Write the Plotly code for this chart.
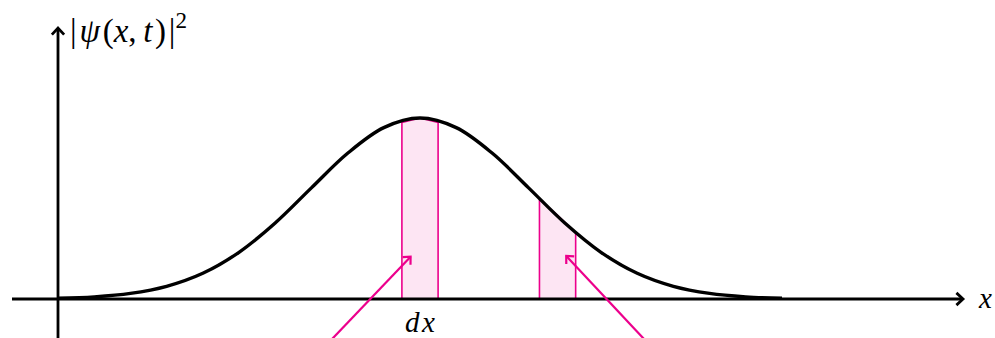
import numpy as np
import plotly.graph_objects as go

# probability density |psi(x,t)|^2 (x in units, peak = 1)
x_vals = [0, 0.5, 1, 1.5, 2, 2.5, 3, 3.5, 4, 4.5, 5, 5.5, 6, 6.5, 7, 7.5, 8, 8.5, 9, 9.5, 10]
density = [0.004, 0.012, 0.031, 0.07, 0.142, 0.258, 0.42, 0.614, 0.805, 0.947, 1.0,
           0.947, 0.805, 0.614, 0.42, 0.258, 0.142, 0.07, 0.031, 0.012, 0.004]

# the two dx strips: left edge, width, heights of the curve at left / middle / right
strip_left = [4.75, 6.65]
strip_width = [0.5, 0.5]
strip_tops = [[0.975, 1.0, 0.975], [0.551, 0.462, 0.365]]

# pointer arrows: (start x, start y) -> (tip x, tip y)
arrow_start = [(3.80, -0.215), (8.08, -0.215)]
arrow_tip = [(4.87, 0.234), (7.02, 0.238)]

PINK = "#ec008c"
X_PX = 72.4   # pixels per x unit
Y_PX = 181.0  # pixels per y unit
W, H = 995, 338
OX, OY = 58, 299  # origin in pixels

fig = go.Figure()


def chevron(tip, frm, color, width, arm=9):
    # open arrow head like tikz "->"
    dx = (tip[0] - frm[0]) * X_PX
    dy = (tip[1] - frm[1]) * Y_PX
    n = np.hypot(dx, dy)
    ux, uy = dx / n, dy / n
    pts = []
    for ang in (0.75, -0.75):
        c, s = np.cos(ang), np.sin(ang)
        bx = -(ux * c - uy * s) * arm
        by = -(ux * s + uy * c) * arm
        pts.append((tip[0] + bx / X_PX, tip[1] + by / Y_PX))
    fig.add_trace(go.Scatter(
        x=[pts[0][0], tip[0], pts[1][0]], y=[pts[0][1], tip[1], pts[1][1]],
        mode="lines", line=dict(color=color, width=width), hoverinfo="skip"))


# strips
for left, w, tops in zip(strip_left, strip_width, strip_tops):
    xs = [left, left, left + w / 2, left + w, left + w, left]
    ys = [0, tops[0], tops[1], tops[2], 0, 0]
    fig.add_trace(go.Scatter(x=xs, y=ys, mode="lines", fill="toself",
                             fillcolor="rgba(236,0,140,0.1)",
                             line=dict(color=PINK, width=1.6), hoverinfo="skip"))

# axes
x_axis_start = (12 - OX) / X_PX
x_axis_tip = (963 - OX) / X_PX
y_axis_tip = (OY - 28) / Y_PX
fig.add_trace(go.Scatter(x=[x_axis_start, x_axis_tip], y=[0, 0], mode="lines",
                         line=dict(color="black", width=2.8), hoverinfo="skip"))
chevron((x_axis_tip, 0), (x_axis_start, 0), "black", 2.8)
fig.add_trace(go.Scatter(x=[0, 0], y=[-0.3, y_axis_tip], mode="lines",
                         line=dict(color="black", width=2.8), hoverinfo="skip"))
chevron((0, y_axis_tip), (0, -0.3), "black", 2.8)

# curve
fig.add_trace(go.Scatter(x=x_vals, y=density, mode="lines",
                         line=dict(color="black", width=3.4, shape="spline", smoothing=1.0),
                         hoverinfo="skip"))

# pointer arrows, extended a little past the bottom edge
for s, t in zip(arrow_start, arrow_tip):
    k = 0.3
    x0 = s[0] - k * (t[0] - s[0])
    y0 = s[1] - k * (t[1] - s[1])
    fig.add_trace(go.Scatter(x=[x0, t[0]], y=[y0, t[1]], mode="lines",
                             line=dict(color=PINK, width=2.2), hoverinfo="skip"))
    chevron(t, s, PINK, 2.2, arm=8)

font = dict(family="Liberation Serif", size=29, color="black")
fig.add_annotation(x=(985 - OX) / X_PX, y=(OY - 298) / Y_PX, text="<i>x</i>", showarrow=False,
                   xanchor="center", yanchor="middle", font=font)
fig.add_annotation(x=(68 - OX) / X_PX, y=(OY - 28) / Y_PX,
                   text="|\u200a<i>ψ</i>\u200a(<i>x</i>,\u2009<i>t</i>\u200a)\u200a|<sup>2</sup>",
                   showarrow=False, xanchor="left", yanchor="middle",
                   font=dict(family="Liberation Serif", size=33, color="black"))
fig.add_annotation(x=5.0, y=(OY - 322) / Y_PX, text="<i>d\u200ax</i>", showarrow=False,
                   xanchor="center", yanchor="middle", font=font)

fig.update_layout(
    width=W, height=H,
    margin=dict(l=0, r=0, t=0, b=0),
    paper_bgcolor="white", plot_bgcolor="white",
    showlegend=False,
    xaxis=dict(range=[-OX / X_PX, (W - OX) / X_PX], visible=False, fixedrange=True),
    yaxis=dict(range=[(OY - H) / Y_PX, OY / Y_PX], visible=False, fixedrange=True),
)

fig.write_html("out.html", config={"displayModeBar": False},
               post_script="document.body.style.margin='0';")
